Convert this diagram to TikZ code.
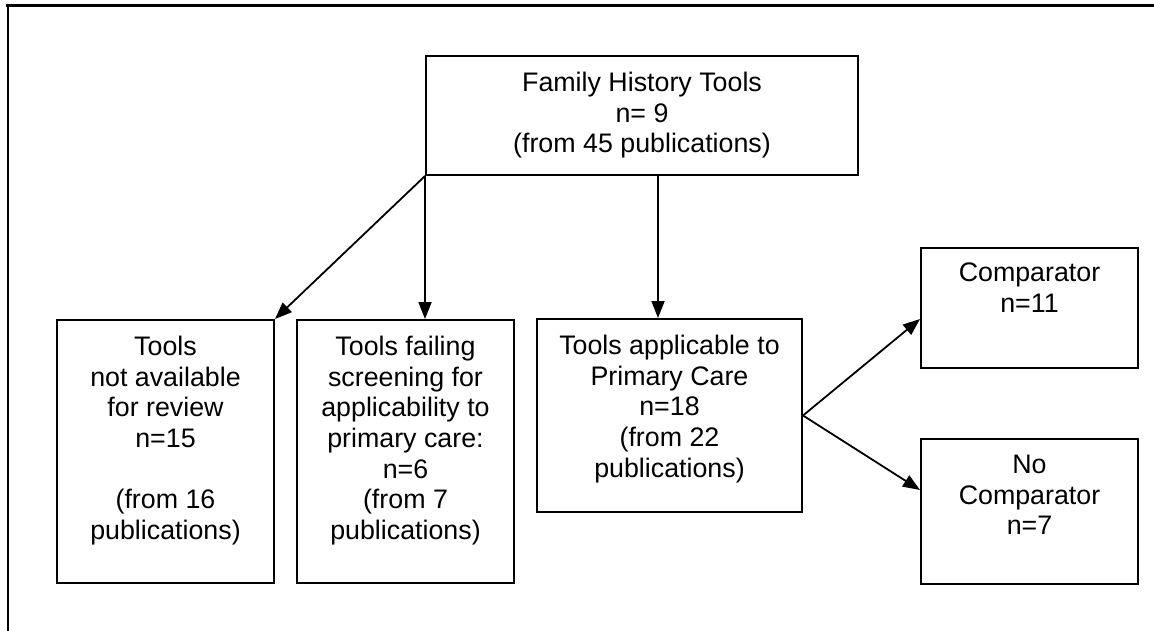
\documentclass[tikz,border=0pt]{standalone}
\usepackage{fontspec}
\setmainfont{Liberation Sans}
\usetikzlibrary{arrows.meta}
\begin{document}
\begin{tikzpicture}[x=1pt,y=-1pt,
  boxnode/.style={draw=black, line width=2pt, inner sep=0pt},
  txt/.style={anchor=north, inner sep=0pt, align=center, font=\fontsize{26.8}{30.6}\selectfont},
  conn/.style={line width=1.8pt, -{Triangle[length=17pt,width=13pt]}}]
\useasboundingbox (0,0) rectangle (1154,631);
% frame
\draw[line width=3pt] (6,5.5) -- (1154,5.5);
\draw[line width=2.5pt] (8,5.5) -- (8,631);
% boxes
\node[boxnode, minimum width=432pt, minimum height=119pt] (top) at (642,115.5) {};
\node[boxnode, minimum width=217pt, minimum height=263pt] (na) at (165.5,451.5) {};
\node[boxnode, minimum width=217pt, minimum height=263pt] (fail) at (405.5,451.5) {};
\node[boxnode, minimum width=265pt, minimum height=193pt] (app) at (669.5,415.5) {};
\node[boxnode, minimum width=217pt, minimum height=120pt] (comp) at (1029.5,308) {};
\node[boxnode, minimum width=217pt, minimum height=145pt] (nocomp) at (1029.5,511.5) {};
% texts
\node[txt] (ttop) at ([yshift=-17pt]top.north) {Family History Tools\\n= 9\\(from 45 publications)};
\node[txt] (tna) at ([yshift=-17pt]na.north) {Tools\\not available\\for review\\n=15\\[30.6pt](from 16\\publications)};
\node[txt] (tfail) at ([yshift=-17pt]fail.north) {Tools failing\\screening for\\applicability to\\primary care:\\n=6\\(from 7\\publications)};
\node[txt] (tapp) at ([yshift=-17pt]app.north) {Tools applicable to\\Primary Care\\n=18\\(from 22\\publications)};
\node[txt] (tcomp) at ([yshift=-16pt]comp.north) {Comparator\\n=11};
\node[txt] (tnocomp) at ([yshift=-17pt]nocomp.north) {No\\Comparator\\n=7};
% connectors
\coordinate (appin) at ([xshift=-11.5pt]app.north);
\draw[conn] (top.south west) -- (na.north east);
\draw[conn] (top.south west) -- (top.south west |- fail.north);
\draw[conn] (top.south -| appin) -- (appin);
\draw[conn] (app.east) -- ([yshift=-11pt]comp.west);
\draw[conn] (app.east) -- ([yshift=21.5pt]nocomp.west);
\end{tikzpicture}
\end{document}
